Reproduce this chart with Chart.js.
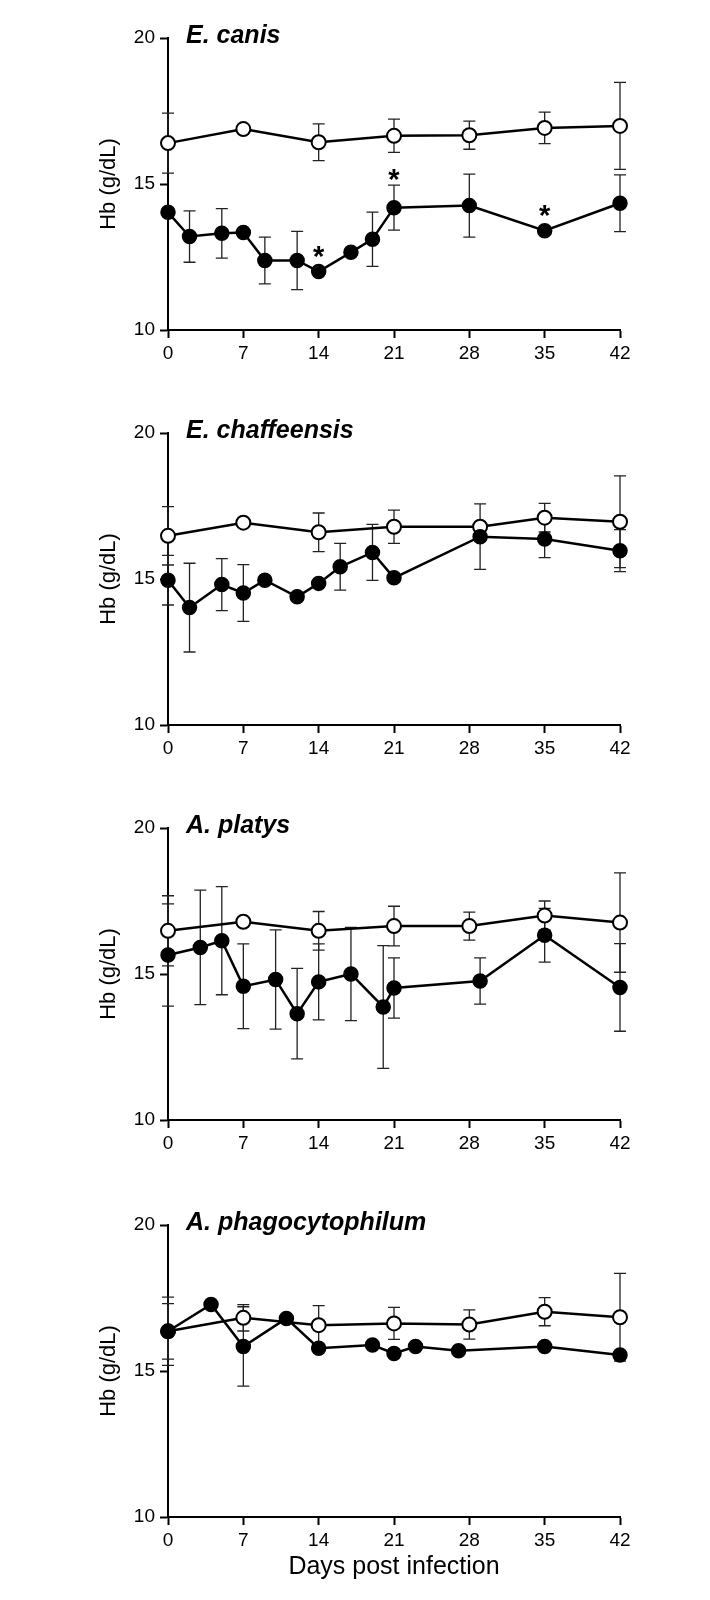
<!DOCTYPE html>
<html>
<head>
<meta charset="utf-8">
<script src="https://cdn.jsdelivr.net/npm/chart.js@4.4.0/dist/chart.umd.min.js"></script>
<style>
  body { margin: 0; background: #fff; }
  .panel { position: absolute; left: 0; width: 710px; }
</style>
</head>
<body>
<div class="panel" style="top:0px;height:395px"><canvas id="c1"></canvas></div>
<div class="panel" style="top:395px;height:395px"><canvas id="c2"></canvas></div>
<div class="panel" style="top:790px;height:395px"><canvas id="c3"></canvas></div>
<div class="panel" style="top:1187px;height:413px"><canvas id="c4"></canvas></div>
<script>
// Hb (g/dL), mean and SD; 0 = bar hidden behind the marker
const titles = ['E. canis', 'E. chaffeensis', 'A. platys', 'A. phagocytophilum'];

// E. canis
const canisCtrlDays = [0, 7, 14, 21, 28, 35, 42];
const canisCtrl = [16.40, 16.88, 16.43, 16.65, 16.67, 16.92, 16.99];
const canisCtrlSd = [1.03, 0, 0.63, 0.57, 0.48, 0.54, 1.49];
const canisInfDays = [0, 2, 5, 7, 9, 12, 14, 17, 19, 21, 28, 35, 42];
const canisInf = [14.03, 13.20, 13.31, 13.34, 12.38, 12.38, 12.00, 12.66, 13.11, 14.19, 14.26, 13.40, 14.34];
const canisInfSd = [0, 0.88, 0.85, 0, 0.80, 1.00, 0, 0, 0.93, 0.77, 1.08, 0, 0.97];
const canisStarDays = [14, 21, 35];
const canisStarHb = [12.75, 15.37, 14.14];

// E. chaffeensis
const chafCtrlDays = [0, 7, 14, 21, 29, 35, 42];
const chafCtrl = [16.48, 16.93, 16.60, 16.79, 16.79, 17.10, 16.96];
const chafCtrlSd = [1.0, 0, 0.66, 0.57, 0, 0.49, 1.57];
const chafInfDays = [0, 2, 5, 7, 9, 12, 14, 16, 19, 21, 29, 35, 42];
const chafInf = [14.96, 14.02, 14.81, 14.52, 14.96, 14.39, 14.85, 15.42, 15.91, 15.04, 16.45, 16.37, 15.97];
const chafInfSd = [0.85, 1.52, 0.89, 0.97, 0, 0, 0, 0.80, 0.96, 0, 1.12, 0.64, 0.72];

// A. platys
const platCtrlDays = [0, 7, 14, 21, 28, 35, 42];
const platCtrl = [16.48, 16.79, 16.48, 16.64, 16.64, 17.00, 16.76];
const platCtrlSd = [1.2, 0, 0.66, 0.68, 0.48, 0.5, 1.7];
const platInfDays = [0, 3, 5, 7, 10, 12, 14, 17, 20, 21, 29, 35, 42];
const platInf = [15.65, 15.91, 16.14, 14.58, 14.81, 13.64, 14.73, 15.00, 13.87, 14.52, 14.76, 16.33, 14.54];
const platInfSd = [1.75, 1.96, 1.85, 1.45, 1.7, 1.55, 1.3, 1.6, 2.1, 1.03, 0.79, 0.92, 1.5];

// A. phagocytophilum
const phagCtrlDays = [0, 7, 14, 21, 28, 35, 42];
const phagCtrl = [16.36, 16.82, 16.57, 16.63, 16.59, 17.03, 16.84];
const phagCtrlSd = [1.17, 0.45, 0.67, 0.55, 0.5, 0.48, 1.5];
const phagInfDays = [0, 4, 7, 11, 14, 19, 21, 23, 27, 35, 42];
const phagInf = [16.36, 17.28, 15.84, 16.80, 15.78, 15.89, 15.60, 15.84, 15.69, 15.84, 15.55];
const phagInfSd = [0.95, 0, 1.36, 0, 0, 0, 0, 0, 0, 0, 0];

const FONT = "'Liberation Sans', Arial, sans-serif";

const toPoints = (days, vals) => days.map((d, i) => ({ x: d, y: vals[i] }));

// vertical SD bars with caps, under the lines and markers
const errorBars = {
    id: 'errorBars',
    beforeDatasetsDraw(chart) {
        const ctx = chart.ctx;
        const yScale = chart.scales.y;
        ctx.save();
        ctx.strokeStyle = '#222';
        ctx.lineWidth = 1.3;
        chart.data.datasets.forEach((ds, i) => {
            const meta = chart.getDatasetMeta(i);
            meta.data.forEach((pt, j) => {
                const e = ds.err[j];
                if (!e) return;
                const v = ds.data[j].y;
                const top = yScale.getPixelForValue(v + e);
                const bot = yScale.getPixelForValue(v - e);
                ctx.beginPath();
                ctx.moveTo(pt.x, top); ctx.lineTo(pt.x, bot);
                ctx.moveTo(pt.x - 6, top); ctx.lineTo(pt.x + 6, top);
                ctx.moveTo(pt.x - 6, bot); ctx.lineTo(pt.x + 6, bot);
                ctx.stroke();
            });
        });
        ctx.restore();
    }
};

// panel title (bold italic) and significance stars
const annotations = {
    id: 'annotations',
    afterDraw(chart, args, opts) {
        const ctx = chart.ctx;
        const area = chart.chartArea;
        ctx.save();
        ctx.fillStyle = '#000';
        ctx.font = "italic bold 25px " + FONT;
        ctx.textAlign = 'left';
        ctx.textBaseline = 'alphabetic';
        ctx.fillText(opts.title, area.left + 18, area.top + 5);
        ctx.font = "bold 29px " + FONT;
        ctx.textAlign = 'center';
        (opts.starDays || []).forEach((d, i) => {
            const px = chart.scales.x.getPixelForValue(d);
            const py = chart.scales.y.getPixelForValue(opts.starHb[i]);
            ctx.fillText('*', px, py + 16);
        });
        ctx.restore();
    }
};

function makePanel(id, title, ctrlDays, ctrl, ctrlSd, infDays, inf, infSd, starDays, starHb, last) {
    return new Chart(document.getElementById(id), {
        type: 'line',
        data: {
            datasets: [
                {
                    label: 'Infected',
                    data: toPoints(infDays, inf),
                    err: infSd,
                    borderColor: '#000',
                    borderWidth: 2.5,
                    pointRadius: 7,
                    pointBorderWidth: 1.5,
                    pointBackgroundColor: '#000',
                    pointBorderColor: '#000',
                    tension: 0,
                    clip: false
                },
                {
                    label: 'Control',
                    data: toPoints(ctrlDays, ctrl),
                    err: ctrlSd,
                    borderColor: '#000',
                    borderWidth: 2.5,
                    pointRadius: 7,
                    pointBorderWidth: 2,
                    pointBackgroundColor: '#fff',
                    pointBorderColor: '#000',
                    tension: 0,
                    clip: false
                }
            ]
        },
        options: {
            responsive: true,
            maintainAspectRatio: false,
            animation: false,
            events: [],
            layout: { padding: { left: 96, right: 90, top: 38, bottom: 0 } },
            plugins: {
                legend: { display: false },
                tooltip: { enabled: false },
                annotations: { title: title, starDays: starDays, starHb: starHb }
            },
            scales: {
                x: {
                    type: 'linear',
                    min: 0,
                    max: 42,
                    afterFit: (s) => { s.height = last ? 83 : 65; },
                    ticks: { stepSize: 7, color: '#000', padding: 4, font: { family: FONT, size: 19 } },
                    grid: { drawOnChartArea: false, drawTicks: true, tickLength: 8, tickColor: '#000', tickWidth: 2 },
                    border: { display: true, color: '#000', width: 2 },
                    title: {
                        display: last,
                        text: 'Days post infection',
                        color: '#000',
                        font: { family: FONT, size: 25 },
                        padding: { top: 0, bottom: 18 }
                    }
                },
                y: {
                    min: 10,
                    max: 20,
                    afterFit: (s) => { s.width = 72; },
                    ticks: { stepSize: 5, color: '#000', padding: 5, font: { family: FONT, size: 19 } },
                    grid: { drawOnChartArea: false, drawTicks: true, tickLength: 8, tickColor: '#000', tickWidth: 2 },
                    border: { display: true, color: '#000', width: 2 },
                    title: {
                        display: true,
                        text: 'Hb (g/dL)',
                        color: '#000',
                        font: { family: FONT, size: 22 },
                        padding: { top: 0, bottom: 0 }
                    }
                }
            }
        },
        plugins: [errorBars, annotations]
    });
}

makePanel('c1', titles[0], canisCtrlDays, canisCtrl, canisCtrlSd, canisInfDays, canisInf, canisInfSd, canisStarDays, canisStarHb, false);
makePanel('c2', titles[1], chafCtrlDays, chafCtrl, chafCtrlSd, chafInfDays, chafInf, chafInfSd, [], [], false);
makePanel('c3', titles[2], platCtrlDays, platCtrl, platCtrlSd, platInfDays, platInf, platInfSd, [], [], false);
makePanel('c4', titles[3], phagCtrlDays, phagCtrl, phagCtrlSd, phagInfDays, phagInf, phagInfSd, [], [], true);
</script>
</body>
</html>
